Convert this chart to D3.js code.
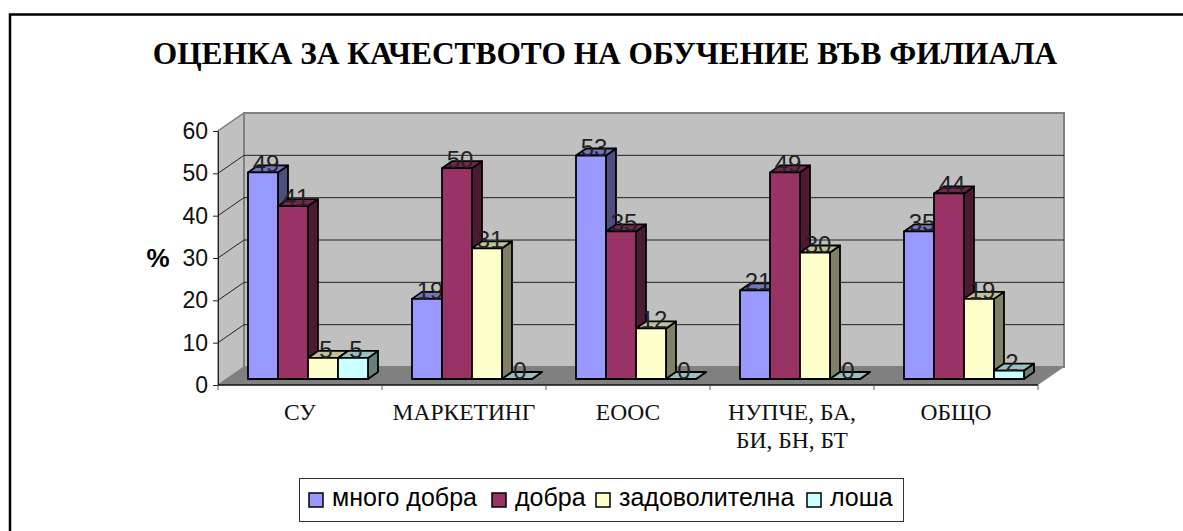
<!DOCTYPE html>
<html>
<head>
<meta charset="utf-8">
<script src="https://cdn.jsdelivr.net/npm/d3@7"></script>
<style>
  html, body { margin: 0; padding: 0; background: #fff; overflow: hidden; }
  svg { display: block; }
  .serif { font-family: "Liberation Serif", serif; }
  .sans { font-family: "Liberation Sans", sans-serif; }
</style>
</head>
<body>
<div id="chart"></div>
<script>
const categories = [['СУ'], ['МАРКЕТИНГ'], ['ЕООС'], ['НУПЧЕ, БА,', 'БИ, БН, БТ'], ['ОБЩО']];
const seriesNames = ['много добра', 'добра', 'задоволителна', 'лоша'];
const veryGood = [49, 19, 53, 21, 35];
const good = [41, 50, 35, 49, 44];
const satisfactory = [5, 31, 12, 30, 19];
const poor = [5, 0, 0, 0, 2];
const yTicks = [0, 10, 20, 30, 40, 50, 60];

const seriesValues = [veryGood, good, satisfactory, poor];
const frontColors = ['#9999ff', '#993366', '#ffffcc', '#ccffff'];
const topColors = ['#7373c0', '#732650', '#c0c099', '#99c0c0'];
const sideColors = ['#4d4d80', '#4d1a33', '#808066', '#668080'];

const width = 1183, height = 531;
const svg = d3.select('#chart').append('svg').attr('width', width).attr('height', height);

// outer frame: only top and left edges are inside the page
svg.append('path')
  .attr('d', `M10,${height + 5}V14.5H${width + 5}`)
  .attr('fill', 'none').attr('stroke', '#000').attr('stroke-width', 2.5);

svg.append('text').attr('class', 'serif')
  .attr('x', 605).attr('y', 64)
  .attr('text-anchor', 'middle').attr('font-size', 31.4).attr('font-weight', 'bold')
  .text('ОЦЕНКА ЗА КАЧЕСТВОТО НА ОБУЧЕНИЕ ВЪВ ФИЛИАЛА');

const y = d3.scaleLinear().domain([0, 60]).range([385, 131]);
// bars stand slightly behind the front edge of the floor
const yBar = d3.scaleLinear().domain([0, 60]).range([379, 126]);
const x = d3.scaleBand().domain(d3.range(categories.length)).range([218, 1038]);
const depth = { dx: 26, dy: -18 };
const barDepth = { dx: 10, dy: -7 };
const barWidth = 30;
const barInset = 30;

const x0 = x.range()[0], x1 = x.range()[1];
const wallStroke = '#808080';

// walls and floor
svg.append('path')
  .attr('d', `M${x0},${y(0)}L${x0 + depth.dx},${y(0) + depth.dy}V${y(60) + depth.dy}L${x0},${y(60)}Z`)
  .attr('fill', '#c0c0c0').attr('stroke', wallStroke).attr('stroke-width', 1.5);
svg.append('rect')
  .attr('x', x0 + depth.dx).attr('y', y(60) + depth.dy)
  .attr('width', x1 - x0).attr('height', y(0) - y(60))
  .attr('fill', '#c0c0c0').attr('stroke', wallStroke).attr('stroke-width', 2);
svg.append('path')
  .attr('d', `M${x0},${y(0)}L${x0 + depth.dx},${y(0) + depth.dy}H${x1 + depth.dx}L${x1},${y(0)}Z`)
  .attr('fill', '#808080');

// gridlines
svg.append('g').selectAll('path')
  .data(yTicks.filter(d => d > 0 && d < 60))
  .join('path')
  .attr('d', d => `M${x0},${y(d)}L${x0 + depth.dx},${y(d) + depth.dy}H${x1 + depth.dx}`)
  .attr('fill', 'none').attr('stroke', '#222').attr('stroke-width', 1);

// axes
const yAxis = svg.append('g').attr('class', 'sans')
  .attr('transform', `translate(${x0},0)`)
  .call(d3.axisLeft(y).tickValues(yTicks).tickSize(5).tickPadding(5).tickSizeOuter(0));
yAxis.select('.domain').attr('stroke', '#222');
yAxis.selectAll('.tick line').attr('stroke', '#222');
yAxis.selectAll('text').attr('font-size', 23).attr('font-family', '"Liberation Sans"').attr('fill', '#111');

const xEdges = d3.range(categories.length + 1).map(i => x0 + i * x.step());
svg.append('line').attr('x1', x0).attr('x2', x1).attr('y1', y(0)).attr('y2', y(0)).attr('stroke', '#111').attr('stroke-width', 1.5);
svg.append('g').selectAll('line').data(xEdges).join('line')
  .attr('x1', d => d).attr('x2', d => d).attr('y1', y(0)).attr('y2', y(0) + 5).attr('stroke', '#555');

svg.append('text').attr('class', 'sans')
  .attr('x', 158).attr('y', 267).attr('text-anchor', 'middle')
  .attr('font-size', 26).attr('font-weight', 'bold').text('%');

// bars, each label drawn with its bar so the next bar can cover it
const barGroup = svg.append('g');
categories.forEach((cat, c) => {
  seriesValues.forEach((vals, s) => {
    const v = vals[c];
    const left = x(c) + barInset + s * barWidth;
    const right = left + barWidth;
    const top = yBar(v);
    const bottom = yBar(0);
    const g = barGroup.append('g');
    const shape = g.append('g').attr('stroke', '#000').attr('stroke-width', 1.8).attr('stroke-linejoin', 'round');
    shape.append('path')
      .attr('d', `M${right},${bottom}L${right + barDepth.dx},${bottom + barDepth.dy}V${top + barDepth.dy}L${right},${top}Z`)
      .attr('fill', sideColors[s]);
    shape.append('path')
      .attr('d', `M${left},${top}L${left + barDepth.dx},${top + barDepth.dy}H${right + barDepth.dx}L${right},${top}Z`)
      .attr('fill', topColors[s]);
    shape.append('rect')
      .attr('x', left).attr('y', top).attr('width', barWidth).attr('height', bottom - top)
      .attr('fill', frontColors[s]);
    g.append('text').attr('class', 'sans')
      .attr('x', left + 18).attr('y', top)
      .attr('text-anchor', 'middle').attr('font-size', 24).attr('fill', '#222')
      .text(v);
  });
});

// category labels
const catLabels = svg.append('g').attr('class', 'serif');
categories.forEach((lines, c) => {
  const t = catLabels.append('text')
    .attr('text-anchor', 'middle').attr('font-size', 23.5).attr('fill', '#111');
  lines.forEach((line, i) => {
    t.append('tspan').attr('x', x(c) + x.bandwidth() / 2).attr('y', 420 + i * 28).text(line);
  });
});

// legend
const legend = svg.append('g').attr('class', 'sans');
legend.append('rect').attr('x', 299.5).attr('y', 478.5).attr('width', 604).attr('height', 43)
  .attr('fill', '#fff').attr('stroke', '#333').attr('stroke-width', 1);
const legendX = [309, 492, 596, 807];
seriesNames.forEach((name, i) => {
  legend.append('rect').attr('x', legendX[i]).attr('y', 493).attr('width', 14).attr('height', 14)
    .attr('fill', frontColors[i]).attr('stroke', '#000').attr('stroke-width', 1.5);
  legend.append('text').attr('x', legendX[i] + 23).attr('y', 506)
    .attr('font-size', 25).attr('fill', '#000').text(name);
});
</script>
</body>
</html>
